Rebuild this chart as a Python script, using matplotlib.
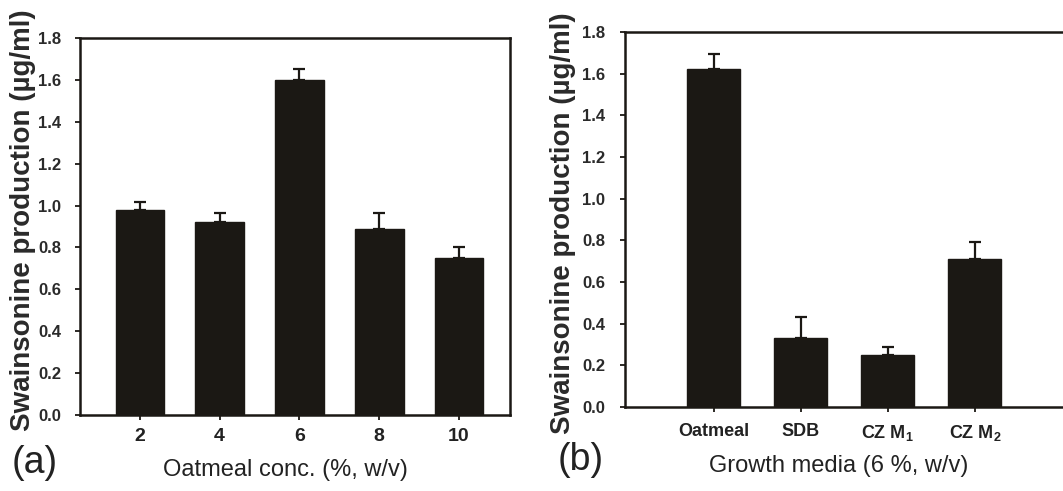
import numpy as np
import matplotlib
matplotlib.use('Agg')
import matplotlib.pyplot as plt

plt.rcParams['font.family'] = ['Liberation Sans', 'DejaVu Sans']
plt.rcParams['mathtext.fontset'] = 'custom'
plt.rcParams['mathtext.rm'] = 'Liberation Sans:bold'
plt.rcParams['mathtext.it'] = 'Liberation Sans:bold'
plt.rcParams['mathtext.bf'] = 'Liberation Sans:bold'

# (a) oatmeal concentration
conc_labels = ['2', '4', '6', '8', '10']
conc_vals = [0.98, 0.92, 1.60, 0.89, 0.75]
conc_err = [0.035, 0.045, 0.052, 0.075, 0.05]

# (b) growth media
media_labels = ['Oatmeal', 'SDB', 'CZ M$_1$', 'CZ M$_2$']
media_vals = [1.625, 0.33, 0.25, 0.71]
media_err = [0.07, 0.10, 0.038, 0.08]

ylabel = 'Swainsonine production (µg/ml)'
ink = '#1b1814'

fig = plt.figure(figsize=(10.63, 4.91), dpi=100)
ax1 = fig.add_axes([0.0753, 0.1548, 0.4045, 0.7678])
ax2 = fig.add_axes([0.588, 0.171, 0.411, 0.7637])


def draw(ax, labels, vals, err, xlim, tick_size, ypad, xpad):
    x = np.arange(len(vals))
    ax.bar(x, vals, width=0.61, color=ink, edgecolor=ink, zorder=2)
    ax.errorbar(x, vals, yerr=[np.zeros(len(err)), err], fmt='none',
                ecolor=ink, elinewidth=1.6, capsize=4, capthick=1.6, zorder=3)
    ax.set_xlim(*xlim)
    ax.set_ylim(0, 1.8)
    ax.set_yticks(np.arange(0, 1.81, 0.2))
    ax.set_yticklabels(['%.1f' % v for v in np.arange(0, 1.81, 0.2)],
                       fontsize=12, fontweight='bold', color='#2a2a2a')
    ax.set_xticks(x)
    ax.set_xticklabels(labels, fontsize=tick_size, fontweight='bold',
                       color='#222')
    ax.tick_params(direction='out', length=3.5, width=1.3, color=ink)
    ax.tick_params(axis='y', pad=ypad)
    ax.tick_params(axis='x', pad=xpad)
    for s in ax.spines.values():
        s.set_linewidth(1.8)
        s.set_color(ink)
    ax.set_ylabel(ylabel, fontsize=20, fontweight='bold', color='#2a2a2a')


draw(ax1, conc_labels, conc_vals, conc_err, (-0.75, 4.64), 14, 10, 6)
draw(ax2, media_labels, media_vals, media_err, (-1.02, 4.0), 13, 11, 8)
ax2.spines['right'].set_visible(False)

ax1.yaxis.set_label_coords(-0.103, 0.517)
ax2.yaxis.set_label_coords(-0.112, 0.49)

ax1.set_xlabel('Oatmeal conc. (%, w/v)', fontsize=17, color='#222')
ax1.xaxis.set_label_coords(0.477, -0.116)
ax2.set_xlabel('Growth media (6 %, w/v)', fontsize=17, color='#222')
ax2.xaxis.set_label_coords(0.49, -0.128)

fig.text(0.033, 0.057, '(a)', fontsize=27, ha='center', va='center', color='#222')
fig.text(0.546, 0.063, '(b)', fontsize=27, ha='center', va='center', color='#222')

fig.savefig('out.png', dpi=100)
